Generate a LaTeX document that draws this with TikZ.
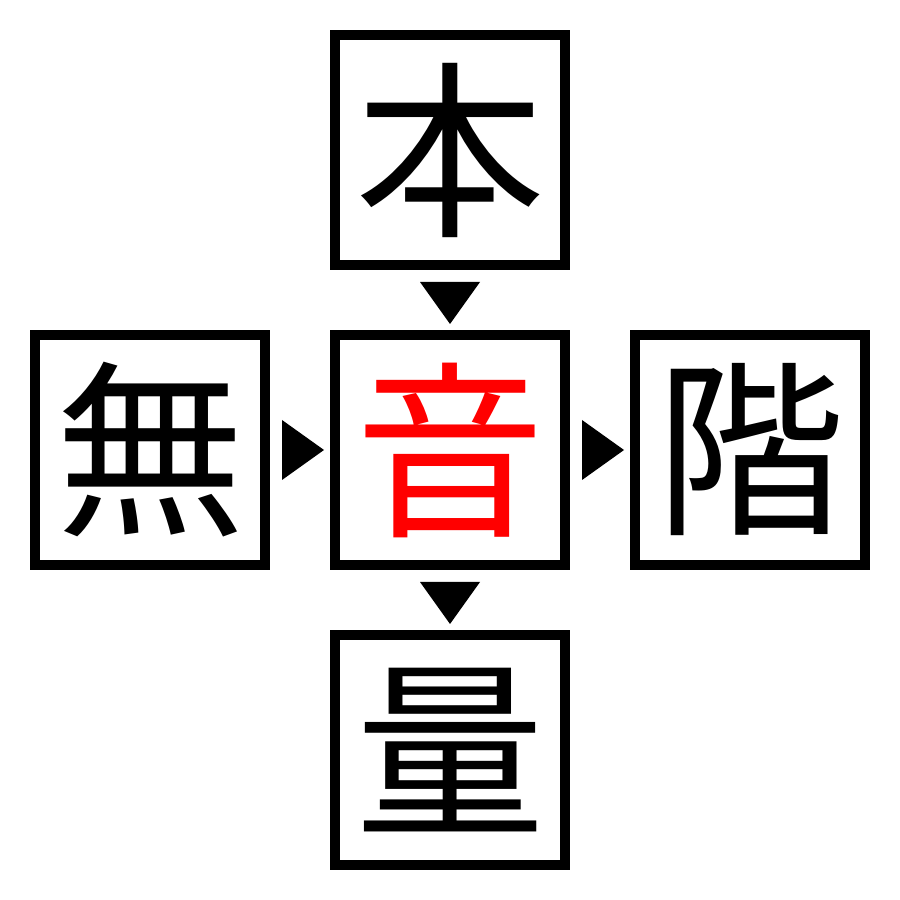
\documentclass[tikz,border=0pt]{standalone}
\usepackage{fontspec}
\newfontfamily\cjk{Noto Sans CJK JP}
\usetikzlibrary{calc}
\tikzset{kanji/.style={draw=black, line width=1mm, minimum size=2.3cm, inner sep=0pt, font=\cjk\fontsize{54}{54}\selectfont},
pointer/.style={fill=black}}

\begin{document}
\begin{tikzpicture}
\useasboundingbox (0,0) rectangle (9,9);
% boxes
\node[kanji] (on) at (4.5,4.5) {\textcolor{red}{音}};
\node[kanji] (hon) at (4.5,7.5) {本};
\node[kanji] (mu) at (1.5,4.5) {無};
\node[kanji] (kai) at (7.5,4.5) {階};
\node[kanji] (ryo) at (4.5,1.5) {量};

%pointers
\coordinate (p1) at ($(hon.south)!0.5!(on.north)$);
\coordinate (p2) at ($(mu.east)!0.5!(on.west)$);
\coordinate (p3) at ($(on.east)!0.5!(kai.west)$);
\coordinate (p4) at ($(on.south)!0.5!(ryo.north)$);
\foreach \p in {p1,p4}
     \fill[pointer] (\p) ++(-0.3,0.18) -- ++(0.6,0) -- ++(-0.3,-0.42) -- cycle;
\foreach \p in {p2,p3}
     \fill[pointer] (\p) ++(-0.18,0.3) -- ++(0,-0.6) -- ++(0.42,0.3) -- cycle;
\end{tikzpicture}
\end{document}
